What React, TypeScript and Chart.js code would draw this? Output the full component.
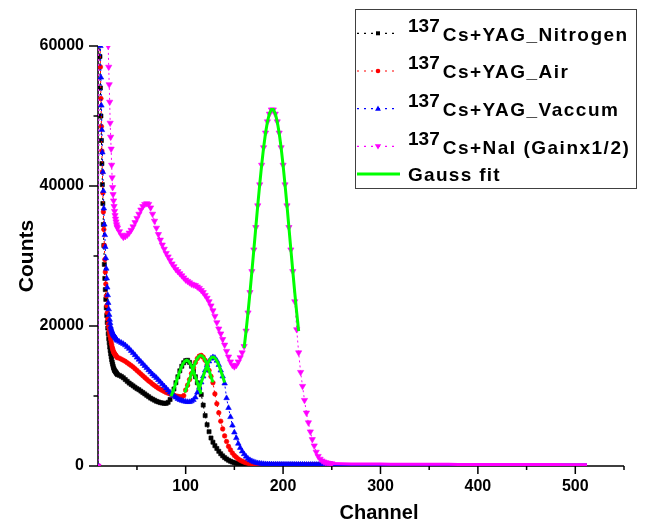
import React, { useEffect, useRef } from 'react';
import { Chart, registerables } from 'chart.js';

Chart.register(...registerables);

// ---------- channel grids ----------
const CH_NEAR = [
  11, 11.5, 12, 12.5, 13, 13.5, 14, 14.5, 15, 15.5,
  16, 16.5, 17, 17.5, 18, 18.5, 19, 19.5, 20, 20.5,
  21, 21.5, 22, 22.5, 23, 23.5, 24, 24.5, 25, 25.5,
  26, 26.5, 27, 27.5, 28, 28.5, 29, 29.5, 30,
];
const CH_MID = [
  32, 34, 36, 38, 40, 42, 44, 46, 48, 50,
  52, 54, 56, 58, 60, 62, 64, 66, 68, 70,
  72, 74, 76, 78, 80, 82, 84, 86, 88, 90,
  92, 94, 96, 98, 100, 102, 104, 106, 108, 110,
  112, 114, 116, 118, 120, 122, 124, 126, 128, 130,
  132, 134, 136, 138, 140, 142, 144, 146, 148, 150,
  152, 154, 156, 158, 160, 162, 164, 166, 168, 170,
  172, 174, 176, 178, 180, 182, 184, 186, 188, 190,
  192, 194, 196, 198, 200, 202, 204, 206, 208, 210,
  212, 214, 216, 218, 220, 222, 224, 226, 228, 230,
  232, 234, 236, 238, 240, 242, 244, 246, 248, 250,
];
const CH_TAIL = [
  260, 270, 280, 290, 300, 310, 320, 330, 340, 350,
  360, 370, 380, 390, 400, 410, 420, 430, 440, 450,
  460, 470, 480, 490, 500, 512,
];

// ---------- 137Cs + YAG (Nitrogen) ----------
const N2_NEAR = [
  72000, 64000, 58500, 54000, 50000, 46500, 43200, 40200, 37500, 34500,
  31500, 28800, 26800, 25200, 23800, 22600, 21500, 20500, 19700, 18900,
  18200, 17600, 17000, 16500, 16050, 15600, 15200, 14850, 14550, 14250,
  14000, 13800, 13650, 13550, 13450, 13350, 13250, 13150, 13050,
];
const N2_MID = [
  12950, 12800, 12600, 12350, 12100, 11850, 11650, 11450, 11250, 11050,
  10900, 10700, 10500, 10300, 10100, 9900, 9700, 9550, 9400, 9250,
  9150, 9050, 9000, 8950, 8950, 9100, 9500, 10300, 11000, 11900,
  12750, 13600, 14250, 14750, 15050, 15100, 14800, 14250, 13550, 12750,
  11900, 11050, 10200, 8700, 7200, 5900, 4900, 4000, 3400, 2900,
  2500, 2100, 1750, 1450, 1200, 1000, 820, 680, 560, 460,
  390, 330, 290, 260, 240, 220, 210, 200, 190, 180,
  175, 170, 170, 165, 165, 160, 160, 160, 155, 155,
  155, 150, 150, 150, 150, 145, 145, 145, 145, 140,
  140, 140, 140, 140, 135, 135, 135, 135, 135, 130,
  130, 130, 130, 130, 130, 125, 125, 125, 125, 125,
];
const N2_TAIL = [
  120, 120, 115, 115, 110, 110, 110, 105, 105, 100,
  100, 100, 95, 95, 95, 90, 90, 90, 90, 85,
  85, 85, 80, 80, 80, 80,
];

// ---------- 137Cs + YAG (Air) ----------
const AIR_NEAR = [
  75000, 68000, 62000, 57000, 52500, 48500, 45000, 42000, 39000, 36300,
  33800, 31500, 29500, 27700, 26000, 24300, 22900, 21900, 21000, 20300,
  19800, 19300, 18900, 18500, 18100, 17700, 17350, 17000, 16750, 16500,
  16300, 16150, 16050, 15950, 15850, 15750, 15650, 15550, 15480,
];
const AIR_MID = [
  15400, 15250, 15100, 14950, 14750, 14550, 14350, 14150, 13900, 13650,
  13400, 13150, 12900, 12650, 12400, 12150, 11950, 11700, 11500, 11300,
  11100, 10950, 10800, 10650, 10500, 10400, 10300, 10200, 10100, 10000,
  9950, 9900, 9880, 10050, 10850, 11550, 12350, 13200, 14050, 14800,
  15350, 15700, 15800, 15550, 15100, 14450, 13650, 12800, 11900, 10300,
  8900, 7600, 6400, 5300, 4300, 3500, 2800, 2300, 1850, 1500,
  1250, 1000, 820, 680, 560, 470, 400, 350, 310, 280,
  260, 250, 240, 230, 225, 220, 215, 210, 205, 200,
  200, 195, 195, 190, 190, 190, 185, 185, 185, 180,
  180, 180, 180, 175, 175, 175, 175, 170, 170, 170,
  170, 170, 165, 165, 165, 165, 160, 160, 160, 160,
];
const AIR_TAIL = [
  155, 155, 150, 150, 145, 145, 140, 140, 135, 135,
  130, 130, 130, 125, 125, 125, 120, 120, 120, 115,
  115, 115, 110, 110, 110, 110,
];

// ---------- 137Cs + YAG (Vaccum) ----------
const VAC_NEAR = [
  78000, 71000, 65000, 60000, 55500, 51500, 48000, 44800, 42000, 39300,
  36800, 34500, 33000, 31300, 29700, 28200, 26800, 25500, 24400, 23300,
  22400, 21600, 20900, 20400, 19900, 19600, 19350, 19150, 18950, 18800,
  18700, 18600, 18500, 18400, 18300, 18200, 18100, 18000, 17900,
];
const VAC_MID = [
  17750, 17600, 17450, 17250, 17000, 16750, 16450, 16150, 15850, 15500,
  15200, 14900, 14600, 14300, 14000, 13700, 13400, 13100, 12850, 12600,
  12300, 12000, 11700, 11400, 11100, 10800, 10500, 10250, 10000, 9800,
  9600, 9450, 9350, 9250, 9200, 9150, 9150, 9250, 9450, 9800,
  10500, 11200, 11950, 12800, 13650, 14400, 14950, 15350, 15550, 15450,
  15050, 14450, 13650, 12800, 11800, 9700, 8300, 7000, 5800, 4800,
  4000, 3200, 2600, 2100, 1700, 1350, 1050, 850, 700, 580,
  480, 410, 360, 320, 290, 270, 255, 245, 240, 235,
  230, 230, 225, 225, 220, 220, 220, 215, 215, 215,
  210, 210, 210, 205, 205, 205, 200, 200, 200, 200,
  195, 195, 195, 195, 190, 190, 190, 190, 185, 185,
];
const VAC_TAIL = [
  180, 180, 175, 175, 170, 170, 165, 165, 160, 160,
  155, 155, 150, 150, 150, 145, 145, 145, 140, 140,
  140, 135, 135, 135, 130, 130,
];

// ---------- 137Cs + NaI (Gain x1/2) ----------
const NAI_NEAR = [
  117000, 114000, 111000, 108000, 105000, 102000, 99000, 96000, 93000, 90000,
  87000, 84000, 81000, 78000, 75000, 72000, 69000, 66000, 63000, 60000,
  57000, 54500, 52000, 49000, 47000, 45300, 43000, 41200, 39800, 38800,
  37900, 37100, 36400, 35800, 35300, 34900, 34500, 34200, 34000,
];
const NAI_MID = [
  33500, 33000, 32700, 32800, 33000, 33300, 33700, 34200, 34800, 35400,
  36000, 36600, 37100, 37400, 37500, 37400, 36900, 36000, 35000, 34000,
  33100, 32300, 31600, 31000, 30400, 29900, 29400, 28900, 28500, 28100,
  27800, 27500, 27200, 26900, 26600, 26400, 26200, 26000, 25900, 25800,
  25600, 25400, 25100, 24800, 24400, 24000, 23500, 22900, 22200, 21400,
  20500, 19600, 18900, 18100, 17300, 16400, 15600, 14900, 14400, 14200,
  14400, 14900, 15500, 16200, 17100, 19300, 21900, 24800, 27800, 30900,
  34100, 37200, 40200, 43000, 45500, 47600, 49200, 50300, 50900, 50900,
  50300, 49200, 47600, 45500, 43000, 40200, 37200, 34100, 30900, 27800,
  23500, 19500, 16200, 13400, 11400, 9400, 7600, 6200, 4900, 3800,
  2900, 2000, 1400, 1000, 750, 600, 500, 430, 380, 350,
];
const NAI_TAIL = [
  320, 300, 290, 280, 270, 265, 260, 255, 250, 245,
  240, 235, 230, 230, 225, 220, 220, 215, 210, 210,
  205, 200, 200, 195, 195, 190,
];

// ---------- Gauss fits ----------
const FIT_N2_CH = [85, 87, 89, 91, 93, 95, 97, 99, 101, 103, 105, 107, 109, 111, 113, 115, 116];
const FIT_N2_COUNTS = [9970, 10660, 11460, 12310, 13160, 13930, 14550, 14960, 15100, 14960, 14550, 13930, 13160, 12310, 11460, 10660, 10310];
const FIT_AIR_CH = [99, 101, 103, 105, 107, 109, 111, 113, 115, 117, 119, 121, 123, 125, 127, 128];
const FIT_AIR_COUNTS = [10520, 11180, 11950, 12790, 13650, 14450, 15120, 15580, 15800, 15720, 15380, 14800, 14060, 13220, 12370, 11950];
const FIT_VAC_CH = [113, 115, 117, 119, 121, 123, 125, 127, 129, 131, 133, 135, 137, 139, 140];
const FIT_VAC_COUNTS = [10800, 11540, 12360, 13220, 14030, 14740, 15260, 15535, 15535, 15260, 14740, 14030, 13220, 12360, 11940];
const FIT_NAI_CH = [
  160, 162, 164, 166, 168, 170, 172, 174, 176, 178,
  180, 182, 184, 186, 188, 190, 192, 194, 196, 198,
  200, 202, 204, 206, 208, 210, 212, 214, 216,
];
const FIT_NAI_COUNTS = [
  16830, 19270, 21910, 24780, 27790, 30920, 34090, 37220, 40210, 42990,
  45480, 47580, 49220, 50350, 50930, 50930, 50350, 49220, 47580, 45480,
  42990, 40210, 37220, 34090, 30920, 27790, 24780, 21910, 19270,
];

// ---------- axes / legend text ----------
const X_MAJOR = [100, 200, 300, 400, 500];
const X_MINOR = [50, 150, 250, 350, 450, 550];
const Y_MAJOR = [0, 20000, 40000, 60000];
const Y_MINOR = [10000, 30000, 50000];
const LEGEND_SUP = ['137', '137', '137', '137'];
const LEGEND_MAIN = ['Cs+YAG_Nitrogen', 'Cs+YAG_Air', 'Cs+YAG_Vaccum', 'Cs+NaI (Gainx1/2)'];
const LEGEND_FIT = 'Gauss fit';
const COLORS = ['#000000', '#ff0000', '#0000ff', '#ff00ff'];
const FIT_COLOR = '#00ff00';
const FONT = '"Liberation Sans", Arial, Helvetica, sans-serif';

function zip(xs: number[], ys: number[]) {
  const n = Math.min(xs.length, ys.length);
  const out: { x: number; y: number }[] = [];
  for (let i = 0; i < n; i++) out.push({ x: xs[i], y: ys[i] });
  return out;
}

function series(near: number[], mid: number[], tail: number[]) {
  return [{ x: 10, y: 0 }, ...zip(CH_NEAR, near), ...zip(CH_MID, mid), ...zip(CH_TAIL, tail)];
}

function drawMarker(ctx: CanvasRenderingContext2D, kind: string, x: number, y: number, color: string) {
  ctx.fillStyle = color;
  ctx.beginPath();
  if (kind === 'rect') ctx.rect(x - 2, y - 2, 4, 4);
  else if (kind === 'circle') ctx.arc(x, y, 2.3, 0, Math.PI * 2);
  else if (kind === 'tri') {
    ctx.moveTo(x, y - 3.2);
    ctx.lineTo(x + 2.9, y + 2);
    ctx.lineTo(x - 2.9, y + 2);
    ctx.closePath();
  } else {
    ctx.moveTo(x, y + 3.2);
    ctx.lineTo(x + 3.2, y - 2.2);
    ctx.lineTo(x - 3.2, y - 2.2);
    ctx.closePath();
  }
  ctx.fill();
}

const MARKER_KINDS = ['rect', 'circle', 'tri', 'itri'];

const decor = {
  id: 'decor',
  beforeDatasetsDraw(chart: any) {
    const { ctx, chartArea: a, scales } = chart;
    const x = scales.x;
    const y = scales.y;
    ctx.save();
    ctx.strokeStyle = '#000';
    ctx.lineWidth = 1.5;
    ctx.beginPath();
    ctx.moveTo(a.left, a.top);
    ctx.lineTo(a.left, a.bottom);
    ctx.lineTo(a.right, a.bottom);
    X_MAJOR.forEach((v) => {
      const p = x.getPixelForValue(v);
      ctx.moveTo(p, a.bottom);
      ctx.lineTo(p, a.bottom + 8);
    });
    X_MINOR.forEach((v) => {
      const p = x.getPixelForValue(v);
      ctx.moveTo(p, a.bottom);
      ctx.lineTo(p, a.bottom + 4);
    });
    Y_MAJOR.forEach((v) => {
      const p = y.getPixelForValue(v);
      ctx.moveTo(a.left, p);
      ctx.lineTo(a.left - 9, p);
    });
    Y_MINOR.forEach((v) => {
      const p = y.getPixelForValue(v);
      ctx.moveTo(a.left, p);
      ctx.lineTo(a.left - 4.5, p);
    });
    ctx.stroke();

    ctx.fillStyle = '#000';
    ctx.textAlign = 'center';
    ctx.textBaseline = 'alphabetic';
    ctx.font = `bold 20px ${FONT}`;
    ctx.fillText('Channel', 379, 519);
    ctx.font = `bold 21px ${FONT}`;
    ctx.translate(32.5, 256);
    ctx.rotate(-Math.PI / 2);
    ctx.fillText('Counts', 0, 0);
    ctx.restore();
  },
  afterDraw(chart: any) {
    const ctx: CanvasRenderingContext2D = chart.ctx;
    ctx.save();
    ctx.strokeStyle = '#404040';
    ctx.lineWidth = 1;
    ctx.strokeRect(355.5, 9.5, 281, 179);
    ctx.textAlign = 'left';
    ctx.textBaseline = 'alphabetic';
    LEGEND_MAIN.forEach((label, i) => {
      const cy = 33.3 + i * 37.7;
      ctx.strokeStyle = COLORS[i];
      ctx.lineWidth = 1.2;
      ctx.setLineDash([2, 5]);
      ctx.beginPath();
      ctx.moveTo(357, cy);
      ctx.lineTo(399, cy);
      ctx.stroke();
      ctx.setLineDash([]);
      drawMarker(ctx, MARKER_KINDS[i], 378, cy, COLORS[i]);
      ctx.fillStyle = '#000';
      ctx.font = `bold 19px ${FONT}`;
      (ctx as any).letterSpacing = '0px';
      ctx.fillText(LEGEND_SUP[i], 408, cy - 1.6);
      const w = ctx.measureText(LEGEND_SUP[i]).width;
      (ctx as any).letterSpacing = '1.5px';
      ctx.fillText(label, 408 + w + 3, cy + 7.4);
    });
    const gy = 174;
    ctx.strokeStyle = FIT_COLOR;
    ctx.lineWidth = 3;
    ctx.beginPath();
    ctx.moveTo(357, gy);
    ctx.lineTo(400, gy);
    ctx.stroke();
    ctx.fillStyle = '#000';
    ctx.font = `bold 19px ${FONT}`;
    (ctx as any).letterSpacing = '1.3px';
    ctx.fillText(LEGEND_FIT, 408, gy + 6.5);
    ctx.restore();
  },
};

function dataStyle(label: string, color: string, pointStyle: string, radius: number, rotation = 0) {
  return {
    label,
    showLine: true,
    borderColor: color,
    backgroundColor: color,
    borderWidth: 1,
    borderDash: [2, 3],
    pointStyle,
    rotation,
    pointRotation: rotation,
    pointRadius: (c: any) => (c.raw && c.raw.x > 250 ? 0 : radius),
    pointHoverRadius: radius,
    pointBorderWidth: 0.6,
    pointBorderColor: color,
    pointBackgroundColor: color,
    segment: {
      borderDash: (c: any) => (c.p0.parsed.x >= 250 ? [] : [2, 3]),
      borderWidth: (c: any) => (c.p0.parsed.x >= 250 ? 3 : 1),
    },
  };
}

function fitStyle(label: string) {
  return {
    label,
    showLine: true,
    borderColor: FIT_COLOR,
    backgroundColor: FIT_COLOR,
    borderWidth: 3,
    pointRadius: 0,
    pointHoverRadius: 0,
  };
}

export default function App() {
  const ref = useRef<HTMLCanvasElement>(null);

  useEffect(() => {
    const canvas = ref.current;
    if (!canvas) return;
    const tickFont = { family: FONT, size: 16, weight: 'bold' as const };
    const chart = new Chart(canvas, {
      type: 'scatter',
      data: {
        datasets: [
          { ...fitStyle('Gauss fit N2'), data: zip(FIT_N2_CH, FIT_N2_COUNTS) },
          { ...fitStyle('Gauss fit Air'), data: zip(FIT_AIR_CH, FIT_AIR_COUNTS) },
          { ...fitStyle('Gauss fit Vac'), data: zip(FIT_VAC_CH, FIT_VAC_COUNTS) },
          { ...fitStyle('Gauss fit NaI'), data: zip(FIT_NAI_CH, FIT_NAI_COUNTS) },
          { ...dataStyle('137Cs+NaI (Gainx1/2)', COLORS[3], 'triangle', 3.6, 180), data: series(NAI_NEAR, NAI_MID, NAI_TAIL) },
          { ...dataStyle('137Cs+YAG_Vaccum', COLORS[2], 'triangle', 3.2), data: series(VAC_NEAR, VAC_MID, VAC_TAIL) },
          { ...dataStyle('137Cs+YAG_Air', COLORS[1], 'circle', 2.3), data: series(AIR_NEAR, AIR_MID, AIR_TAIL) },
          { ...dataStyle('137Cs+YAG_Nitrogen', COLORS[0], 'rect', 2.9), data: series(N2_NEAR, N2_MID, N2_TAIL) },
        ] as any,
      },
      options: {
        animation: false,
        responsive: false,
        devicePixelRatio: 1,
        layout: { padding: { left: 0, top: 46, right: 22, bottom: 0 } },
        plugins: { legend: { display: false }, tooltip: { enabled: false } },
        events: [],
        scales: {
          x: {
            type: 'linear',
            min: 10,
            max: 550,
            afterFit: (s: any) => {
              s.height = 60;
            },
            afterBuildTicks: (s: any) => {
              s.ticks = [...X_MINOR, ...X_MAJOR].sort((p, q) => p - q).map((v) => ({ value: v }));
            },
            grid: { display: false, drawTicks: false },
            border: { display: false },
            ticks: {
              autoSkip: false,
              maxRotation: 0,
              padding: 11,
              color: '#000',
              font: tickFont,
              callback: (v: any) => (Number(v) % 100 === 0 ? String(v) : ''),
            },
          },
          y: {
            type: 'linear',
            min: 0,
            max: 60000,
            afterFit: (s: any) => {
              s.width = 98;
            },
            afterBuildTicks: (s: any) => {
              s.ticks = [...Y_MINOR, ...Y_MAJOR].sort((p, q) => p - q).map((v) => ({ value: v }));
            },
            grid: { display: false, drawTicks: false },
            border: { display: false },
            ticks: {
              autoSkip: false,
              padding: 14,
              color: '#000',
              font: tickFont,
              callback: (v: any) => (Number(v) % 20000 === 0 ? String(v) : ''),
            },
          },
        },
      } as any,
      plugins: [decor],
    });
    return () => chart.destroy();
  }, []);

  return (
    <div style={{ position: 'absolute', left: 0, top: 0, width: 646, height: 526, background: '#fff' }}>
      <canvas ref={ref} width={646} height={526} style={{ display: 'block', width: 646, height: 526 }} />
    </div>
  );
}
